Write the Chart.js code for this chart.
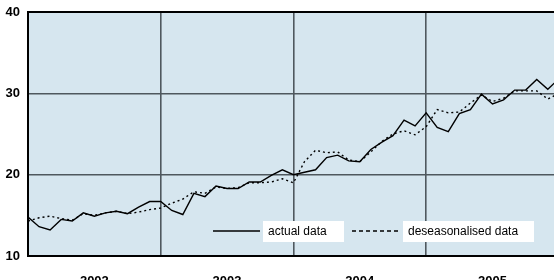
<!DOCTYPE html>
<html>
<head>
<meta charset="utf-8">
<script src="https://cdn.jsdelivr.net/npm/chart.js@4"></script>
<style>
  html, body { margin: 0; padding: 0; background: #fff; overflow: hidden; }
  #wrap { width: 554px; height: 280px; }
</style>
</head>
<body>
<div id="wrap"><canvas id="salesChart" width="554" height="280"></canvas></div>
<script>
// Tick labels (one per year, centred on the year)
const years = ['2002', '2003', '2004', '2005'];
const yTicks = [10, 20, 30, 40];

// Monthly values, Jan 2002 onwards (last point lies just past the right edge)
const actualData = [
  14.8, 13.6, 13.2, 14.5, 14.3, 15.3, 14.9, 15.3, 15.5, 15.2, 16.0, 16.7,
  16.7, 15.6, 15.1, 17.7, 17.3, 18.6, 18.3, 18.3, 19.1, 19.1, 19.9, 20.6,
  20.0, 20.3, 20.6, 22.1, 22.4, 21.7, 21.6, 23.1, 24.0, 24.8, 26.7, 26.0,
  27.6, 25.8, 25.3, 27.5, 28.0, 29.9, 28.7, 29.2, 30.4, 30.4, 31.7, 30.5, 31.8
];
const deseasonalisedData = [
  14.3, 14.7, 14.9, 14.6, 14.4, 15.2, 15.0, 15.3, 15.5, 15.2, 15.4, 15.7,
  15.9, 16.5, 17.0, 17.9, 17.7, 18.5, 18.3, 18.4, 19.0, 19.0, 19.1, 19.5,
  19.0, 21.6, 23.0, 22.7, 22.8, 21.8, 21.6, 22.8, 24.1, 25.0, 25.4, 24.9,
  25.9, 28.0, 27.6, 27.7, 28.8, 29.8, 29.0, 29.4, 30.3, 30.3, 30.3, 29.3, 30.0
];

const toPoints = arr => arr.map((v, i) => ({ x: i, y: v }));

const FONT = 'Arial, "Liberation Sans", sans-serif';
const GRID = '#4f585e';

// plot background + top border + legend
const decor = {
  id: 'decor',
  beforeDraw(chart) {
    const { ctx, chartArea: a } = chart;
    ctx.save();
    ctx.fillStyle = '#d6e6ef';
    ctx.fillRect(a.left, a.top, a.right - a.left, a.bottom - a.top);
    ctx.restore();
  },
  afterDraw(chart) {
    const { ctx, chartArea: a } = chart;
    ctx.save();
    ctx.strokeStyle = '#000';
    ctx.lineWidth = 2;
    ctx.beginPath();
    ctx.moveTo(a.left - 1, a.top);
    ctx.lineTo(a.right, a.top);
    ctx.stroke();

    // legend entries
    const y = 231;
    ctx.font = '12px ' + FONT;
    ctx.textBaseline = 'middle';
    ctx.lineWidth = 1.3;

    ctx.setLineDash([]);
    ctx.beginPath(); ctx.moveTo(213, y); ctx.lineTo(260, y); ctx.stroke();
    ctx.fillStyle = '#fff';
    ctx.fillRect(263, 221, 81, 21);
    ctx.fillStyle = '#000';
    ctx.fillText('actual data', 268, y + 1);

    ctx.setLineDash([4, 3]);
    ctx.beginPath(); ctx.moveTo(352, y); ctx.lineTo(398, y); ctx.stroke();
    ctx.setLineDash([]);
    ctx.fillStyle = '#fff';
    ctx.fillRect(403, 221, 131, 21);
    ctx.fillStyle = '#000';
    ctx.fillText('deseasonalised data', 408, y + 1);
    ctx.restore();
  }
};

const ctx = document.getElementById('salesChart').getContext('2d');

new Chart(ctx, {
  type: 'line',
  data: {
    datasets: [
      {
        label: 'actual data',
        data: toPoints(actualData),
        borderColor: '#000',
        borderWidth: 1.4,
        pointRadius: 0,
        tension: 0
      },
      {
        label: 'deseasonalised data',
        data: toPoints(deseasonalisedData),
        borderColor: '#000',
        borderWidth: 1.4,
        borderDash: [2, 3],
        pointRadius: 0,
        tension: 0
      }
    ]
  },
  options: {
    responsive: false,
    animation: false,
    layout: { padding: { top: 12, left: 0, right: 0, bottom: 0 } },
    plugins: {
      legend: { display: false },
      tooltip: { enabled: false }
    },
    scales: {
      x: {
        type: 'linear',
        min: 0,
        max: 47.56,
        afterBuildTicks: s => {
          s.ticks = [0, 6, 12, 18, 24, 30, 36, 42].map(v => ({ value: v }));
        },
        afterFit: s => { s.height = 24; s.paddingLeft = 0; s.paddingRight = 0; },
        ticks: {
          autoSkip: false,
          maxRotation: 0,
          padding: 18,
          color: '#000',
          font: { family: FONT, size: 13, weight: 'bold' },
          callback: v => (v % 12 === 6 ? years[(v - 6) / 12] : '')
        },
        grid: {
          drawTicks: false,
          lineWidth: 1.6,
          color: c => (c.tick && c.tick.value % 12 === 0 && c.tick.value > 0 ? GRID : 'rgba(0,0,0,0)')
        },
        border: { display: true, color: '#000', width: 2 }
      },
      y: {
        min: 10,
        max: 40,
        afterBuildTicks: s => {
          s.ticks = yTicks.map(v => ({ value: v }));
        },
        afterFit: s => { s.width = 28; s.paddingTop = 0; s.paddingBottom = 0; },
        ticks: {
          padding: 8,
          color: '#000',
          font: { family: FONT, size: 13, weight: 'bold' }
        },
        grid: {
          drawTicks: false,
          lineWidth: 1.6,
          color: c => (c.tick && (c.tick.value === 20 || c.tick.value === 30) ? GRID : 'rgba(0,0,0,0)')
        },
        border: { display: true, color: '#000', width: 2 }
      }
    }
  },
  plugins: [decor]
});
</script>
</body>
</html>
